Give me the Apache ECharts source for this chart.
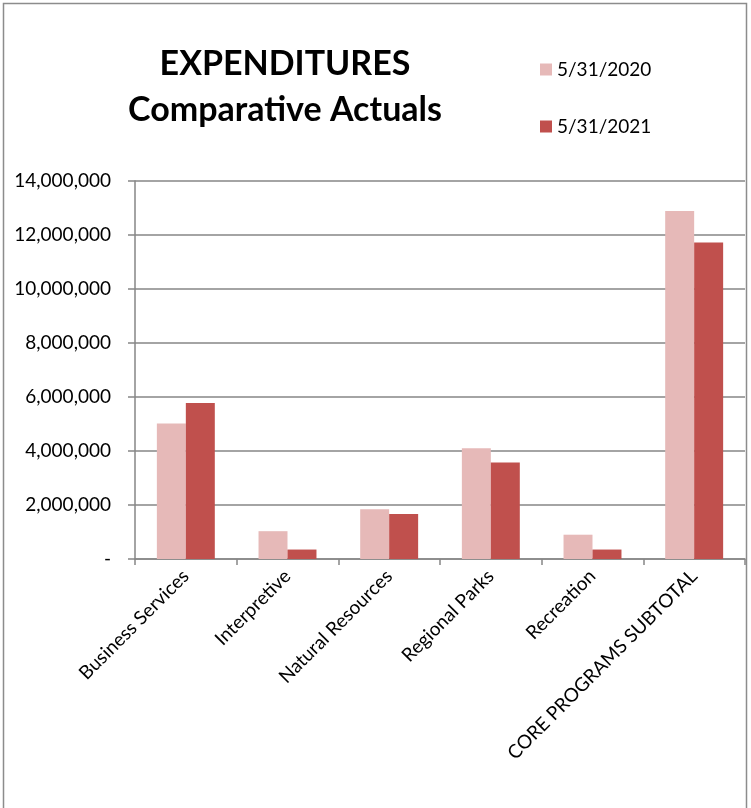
<!DOCTYPE html>
<html>
<head>
<meta charset="utf-8">
<script src="https://cdn.jsdelivr.net/npm/echarts@6/dist/echarts.min.js"></script>
<style>
html,body{margin:0;padding:0;background:#fff;}
#chart{width:751px;height:808px;}
</style>
</head>
<body>
<div id="chart"></div>
<script>
const categories = ['Business Services','Interpretive','Natural Resources','Regional Parks','Recreation','CORE PROGRAMS SUBTOTAL'];
const seriesNames = ['5/31/2020','5/31/2021'];
const values2020 = [5020000, 1030000, 1840000, 4100000, 900000, 12890000];
const values2021 = [5780000, 350000, 1670000, 3570000, 350000, 11720000];
const yTicks = {min: 0, max: 14000000, interval: 2000000};

const FONT = 'Lato, "Open Sans", sans-serif';
const chart = echarts.init(document.getElementById('chart'));
chart.setOption({
  backgroundColor: '#fff',
  animation: false,
  graphic: [{
    type: 'rect',
    shape: {x: 3.5, y: 3.5, width: 743, height: 820},
    style: {fill: 'none', stroke: '#8c8c8c', lineWidth: 1.5},
    silent: true
  }],
  title: {
    text: 'EXPENDITURES\nComparative Actuals',
    left: 280,
    top: 36,
    textAlign: 'center',
    textStyle: {fontFamily: FONT, fontWeight: 'bold', fontSize: 34, lineHeight: 46, color: '#000'}
  },
  legend: {
    orient: 'vertical',
    left: 535,
    top: 55,
    itemWidth: 12,
    itemHeight: 12,
    itemGap: 38,
    icon: 'rect',
    textStyle: {fontFamily: FONT, fontSize: 19, color: '#000'},
    data: seriesNames
  },
  grid: {left: 135, right: 6, top: 181, bottom: 249, containLabel: false},
  xAxis: {
    type: 'category',
    data: categories,
    axisLine: {lineStyle: {color: '#868686', width: 1.5}},
    axisTick: {show: true, length: 6, lineStyle: {color: '#868686', width: 1.5}},
    axisLabel: {rotate: 45, margin: 14, fontFamily: FONT, fontSize: 19, color: '#000', interval: 0}
  },
  yAxis: {
    type: 'value',
    min: yTicks.min, max: yTicks.max, interval: yTicks.interval,
    axisLine: {show: true, lineStyle: {color: '#868686', width: 1.5}},
    axisTick: {show: true, length: 7, lineStyle: {color: '#868686', width: 1.5}},
    splitLine: {lineStyle: {color: '#868686', width: 1.5}},
    axisLabel: {
      margin: 24, fontFamily: FONT, fontSize: 19, color: '#000',
      formatter: v => v === 0 ? '-' : v.toLocaleString('en-US')
    }
  },
  series: [
    {name: seriesNames[0], type: 'bar', data: values2020, barGap: '0%', barCategoryGap: '43%',
     itemStyle: {color: '#E6B9B8'}},
    {name: seriesNames[1], type: 'bar', data: values2021, barGap: '0%', barCategoryGap: '43%',
     itemStyle: {color: '#C0504D'}}
  ]
});
</script>
</body>
</html>
